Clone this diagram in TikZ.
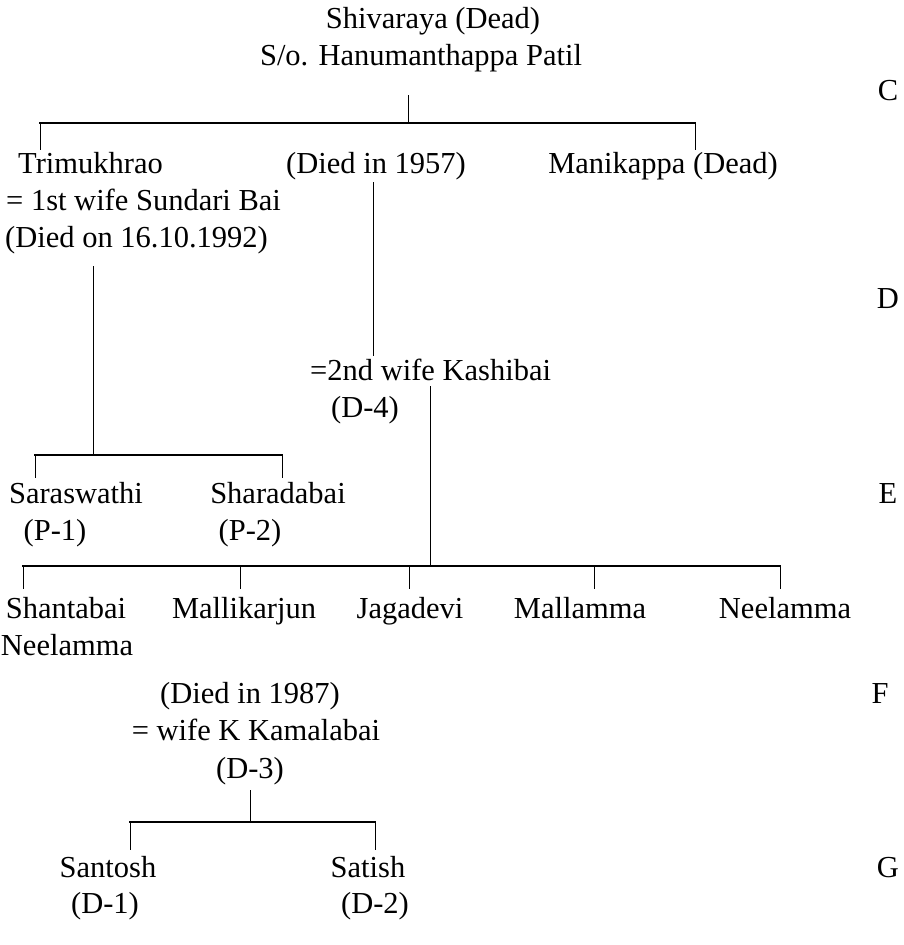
\documentclass[tikz,border=0pt]{standalone}
\usepackage{fontspec}
\setmainfont{Liberation Serif}
\begin{document}
\begin{tikzpicture}[x=1pt,y=-1pt,
  lbl/.style={inner sep=0pt,anchor=base,font=\fontsize{30.5}{36}\selectfont},
  lblw/.style={lbl,anchor=base west},
  vline/.style={line width=1pt},
  hline/.style={line width=2pt,line cap=rect}]
\useasboundingbox (0,0) rectangle (904,945);
% text nodes
\node[lbl] (shiv) at (433,28) {Shivaraya (Dead)};
\node[lbl] (so) at (421,65) {S/o. Hanumanthappa Patil};
\node[lbl] (gC) at (888,100) {C};
\node[lblw] (tri) at (18,173) {Trimukhrao};
\node[lbl] (d57) at (376,173) {(Died in 1957)};
\node[lbl] (mani) at (663,173) {Manikappa (Dead)};
\node[lblw] (sund) at (6,210) {= 1st wife Sundari Bai};
\node[lblw] (don) at (5,247) {(Died on 16.10.1992)};
\node[lbl] (gD) at (888,308) {D};
\node[lblw] (kashi) at (310,380) {=2nd wife Kashibai};
\node[lbl] (d4) at (365,417) {(D-4)};
\node[lbl] (sara) at (76,503) {Saraswathi};
\node[lbl] (shar) at (278,503) {Sharadabai};
\node[lbl] (p1) at (55,540) {(P-1)};
\node[lbl] (p2) at (250,540) {(P-2)};
\node[lbl] (gE) at (888,503) {E};
\node[lbl] (shan) at (66,618) {Shantabai};
\node[lbl] (neel1) at (67,655) {Neelamma};
\node[lbl] (mall) at (244,618) {Mallikarjun};
\node[lbl] (jag) at (410,618) {Jagadevi};
\node[lbl] (mallam) at (580,618) {Mallamma};
\node[lbl] (neel2) at (785,618) {Neelamma};
\node[lbl] (gF) at (880,703) {F};
\node[lbl] (d87) at (250,703) {(Died in 1987)};
\node[lbl] (kam) at (256,740) {= wife K Kamalabai};
\node[lbl] (d3) at (250,778) {(D-3)};
\node[lbl] (sant) at (108,877) {Santosh};
\node[lbl] (sati) at (368,877) {Satish};
\node[lbl] (dd1) at (105,913) {(D-1)};
\node[lbl] (dd2) at (375,913) {(D-2)};
\node[lbl] (gG) at (888,877) {G};
% junction coordinates
\coordinate (a0) at (408,95);
\coordinate (a1) at (408,123);
\coordinate (aL) at (40,123);
\coordinate (aR) at (695,123);
\coordinate (aLd) at (40,150);
\coordinate (aRd) at (695,150);
\coordinate (b0) at (373,182);
\coordinate (b1) at (373,356);
\coordinate (c0) at (93,266);
\coordinate (c1) at (93,455);
\coordinate (cL) at (35,455);
\coordinate (cR) at (282,455);
\coordinate (cLd) at (35,478);
\coordinate (cRd) at (282,478);
\coordinate (e0) at (430,386);
\coordinate (e1) at (430,566);
\coordinate (eL) at (23,566);
\coordinate (eR) at (780,566);
\coordinate (f1) at (23,589);
\coordinate (f2) at (240,589);
\coordinate (f3) at (409,589);
\coordinate (f4) at (594,589);
\coordinate (f5) at (780,589);
\coordinate (g0) at (250,790);
\coordinate (g1) at (250,822);
\coordinate (gL) at (130,822);
\coordinate (gR) at (375,822);
\coordinate (gLd) at (130,850);
\coordinate (gRd) at (375,850);
% connectors
\draw[vline] (a0) -- (a1);
\draw[hline] (aL) -- (aR);
\draw[vline] (aL) -- (aLd);
\draw[vline] (aR) -- (aRd);
\draw[vline] (b0) -- (b1);
\draw[vline] (c0) -- (c1);
\draw[hline] (cL) -- (cR);
\draw[vline] (cL) -- (cLd);
\draw[vline] (cR) -- (cRd);
\draw[vline] (e0) -- (e1);
\draw[hline] (eL) -- (eR);
\draw[vline] (eL) -- (f1);
\draw[vline] (f2 |- eL) -- (f2);
\draw[vline] (f3 |- eL) -- (f3);
\draw[vline] (f4 |- eL) -- (f4);
\draw[vline] (eR) -- (f5);
\draw[vline] (g0) -- (g1);
\draw[hline] (gL) -- (gR);
\draw[vline] (gL) -- (gLd);
\draw[vline] (gR) -- (gRd);
\end{tikzpicture}
\end{document}
